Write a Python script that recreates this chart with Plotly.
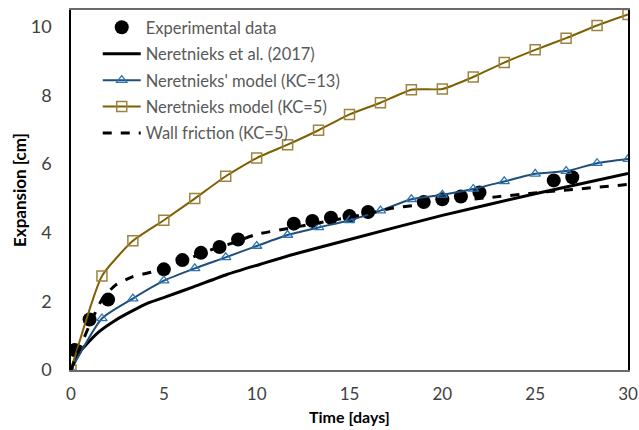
import plotly.graph_objects as go

# ---- data ----
exp_t = [0.2, 1, 2, 5, 6, 7, 8, 9, 12, 13, 14, 15, 16, 19, 20, 21, 22, 26, 27]
exp_y = [0.58, 1.47, 2.05, 2.93, 3.20, 3.41, 3.58, 3.80, 4.26, 4.34, 4.43, 4.48, 4.60, 4.89, 4.97, 5.05, 5.17, 5.52, 5.61]

ner2017_t = [0, 0.3, 0.8, 1.5, 2.4, 3.3, 4.2, 5.1, 6.6, 8.4, 10.2, 11.8, 15, 20, 25, 30]
ner2017_y = [0, 0.42, 0.73, 1.11, 1.45, 1.72, 1.96, 2.13, 2.42, 2.78, 3.08, 3.34, 3.80, 4.50, 5.13, 5.72]

model_t = [0, 1.667, 3.333, 5, 6.667, 8.333, 10, 11.667, 13.333, 15, 16.667, 18.333, 20,
           21.667, 23.333, 25, 26.667, 28.333, 30]
kc13_y = [0, 1.50, 2.08, 2.60, 2.96, 3.28, 3.61, 3.93, 4.15, 4.36, 4.64, 4.97, 5.10,
          5.27, 5.49, 5.71, 5.79, 6.02, 6.14]
kc5_y = [0, 2.74, 3.76, 4.36, 4.99, 5.64, 6.17, 6.56, 6.98, 7.44, 7.78, 8.16, 8.18,
         8.53, 8.95, 9.32, 9.66, 10.03, 10.35]

wall_t = [0, 0.5, 1.2, 1.7, 2.4, 3.3, 4.4, 5, 6.4, 7.5, 8.6, 10, 11.7, 14, 16, 17.2,
          18.6, 19.3, 22.9, 24.7, 26.5, 30]
wall_y = [0, 0.68, 1.55, 2.08, 2.47, 2.71, 2.86, 2.98, 3.25, 3.49, 3.68, 3.95, 4.12,
          4.35, 4.55, 4.70, 4.80, 4.85, 5.04, 5.14, 5.23, 5.40]

FONT = "Lato"
fig = go.Figure()

fig.add_trace(go.Scatter(
    x=exp_t, y=exp_y, mode="markers", name="Experimental data",
    marker=dict(symbol="circle", size=14, color="black"),
    legendgroup="a"))
fig.add_trace(go.Scatter(
    x=ner2017_t, y=ner2017_y, mode="lines", name="Neretnieks et al. (2017)",
    line=dict(color="black", width=3, shape="spline", smoothing=0.6),
    legendgroup="b"))
fig.add_trace(go.Scatter(
    x=model_t, y=kc13_y, mode="lines+markers", name="Neretnieks' model (KC=13)",
    line=dict(color="#1F4E79", width=2, shape="spline", smoothing=0.6),
    marker=dict(symbol="triangle-up-open", size=9, color="#2E75B6", line=dict(width=1.3)),
    legendgroup="c"))
fig.add_trace(go.Scatter(
    x=model_t, y=kc5_y, mode="lines+markers", name="Neretnieks model (KC=5)",
    line=dict(color="#7F6000", width=2, shape="spline", smoothing=0.5),
    marker=dict(symbol="square-open", size=10, color="#9C8440", line=dict(width=1.5)),
    legendgroup="d"))
fig.add_trace(go.Scatter(
    x=wall_t, y=wall_y, mode="lines", name="Wall friction (KC=5)",
    line=dict(color="black", width=3, dash="dash", shape="spline", smoothing=0.6),
    legendgroup="e"))

fig.update_layout(
    width=639, height=430,
    margin=dict(l=71, r=11, t=10, b=60),
    paper_bgcolor="white", plot_bgcolor="white",
    font=dict(family=FONT, color="#404040"),
    showlegend=True,
    legend=dict(x=0.048, y=1.0, xanchor="left", yanchor="top",
                bgcolor="rgba(0,0,0,0)", font=dict(size=16.5, color="#595959", family=FONT),
                traceorder="grouped", tracegroupgap=2, itemwidth=38),
    xaxis=dict(range=[0, 30], dtick=5, tick0=0, showgrid=False, zeroline=False,
               showline=True, linecolor="#6b6b6b", linewidth=2, mirror=True,
               ticks="", ticklabelstandoff=8, automargin=False,
               tickfont=dict(size=17, color="#404040")),
    yaxis=dict(range=[0, 10.48], dtick=2, tick0=0, showgrid=False, zeroline=False,
               showline=True, linecolor="black", linewidth=1.5, mirror=True,
               ticks="outside", ticklen=14, tickcolor="rgba(0,0,0,0)",
               automargin=False,
               tickfont=dict(size=18, color="#404040")),
    annotations=[
        dict(text="<b>Expansion [cm]</b>", xref="paper", yref="paper",
             x=-0.0934, y=0.5, xanchor="center", yanchor="middle",
             textangle=-90, showarrow=False,
             font=dict(size=17, color="black", family=FONT)),
        dict(text="<b>Time [days]</b>", xref="paper", yref="paper",
             x=0.5, y=-0.128, xanchor="center", yanchor="middle",
             showarrow=False, font=dict(size=16, color="black", family=FONT)),
    ],
)

fig.write_html("out.html")
